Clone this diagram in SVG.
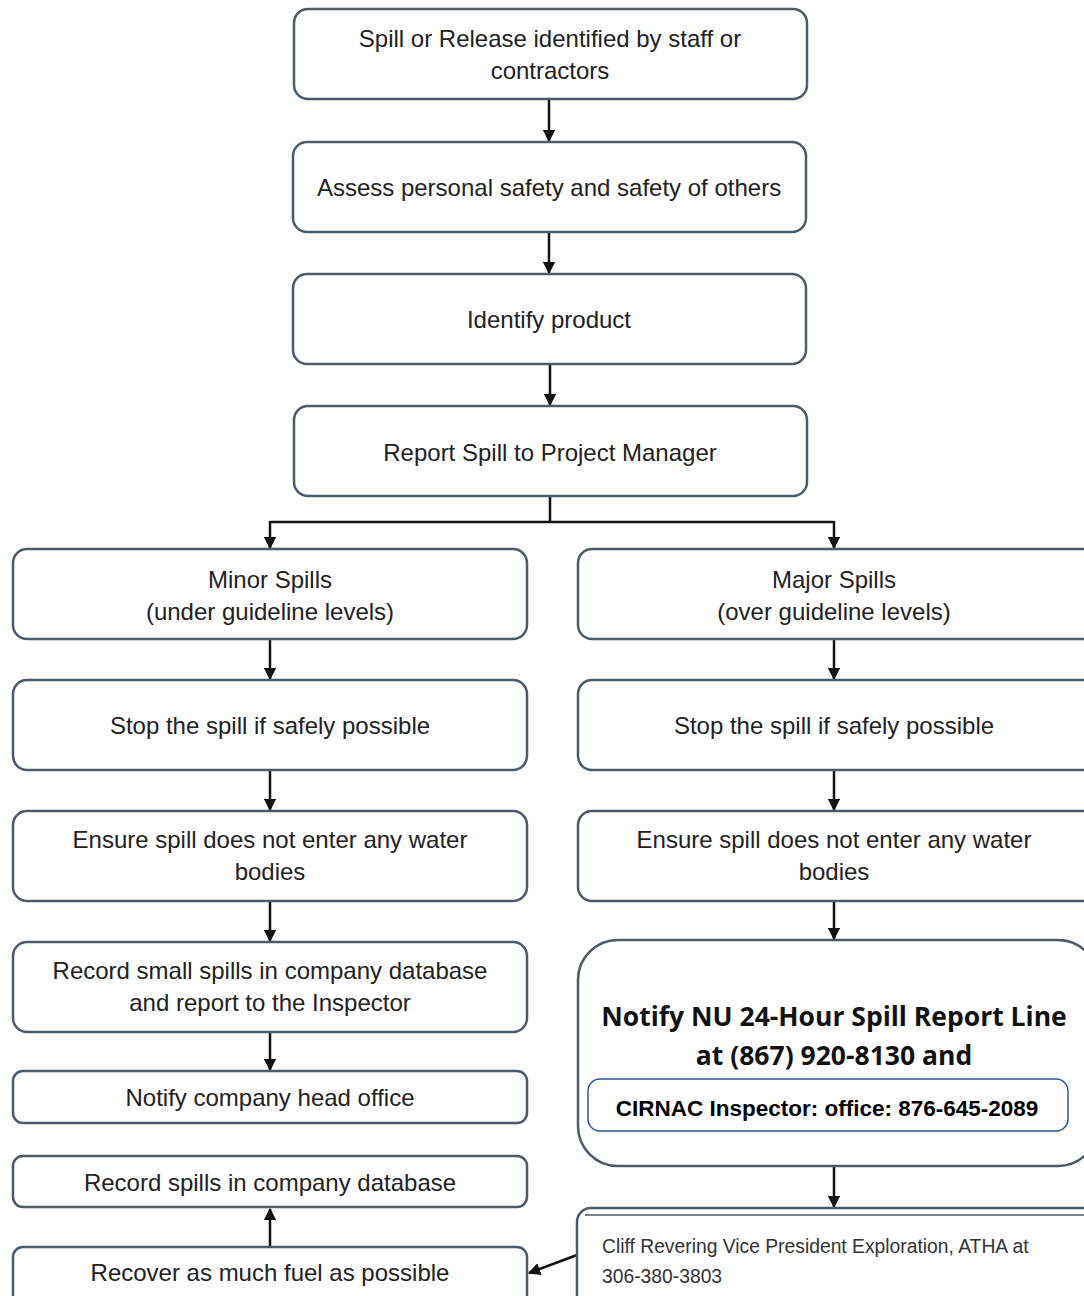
<svg xmlns="http://www.w3.org/2000/svg" width="1084" height="1296" viewBox="0 0 1084 1296">
<defs>
<style>
.box{fill:#fff;stroke:#4b5b6c;stroke-width:2.5}
.t{font-family:"Liberation Sans",Arial,sans-serif;font-size:24px;fill:#222;text-anchor:middle}
.b{font-family:"Open Sans","Liberation Sans",sans-serif;font-size:26.5px;font-weight:bold;fill:#111;text-anchor:middle}
.c{font-family:"Liberation Sans",Arial,sans-serif;font-size:22.5px;font-weight:bold;fill:#000;text-anchor:middle}
.s{font-family:"Liberation Sans",Arial,sans-serif;font-size:19.3px;fill:#333}
.ln{fill:none;stroke:#111;stroke-width:2.5}
</style>
<marker id="ah" viewBox="0 0 10 10" refX="9" refY="5" markerWidth="5" markerHeight="5" orient="auto"><path d="M0,0 L10,5 L0,10 z" fill="#111"/></marker>
</defs>
<rect width="1084" height="1296" fill="#fff"/>
<g id="connectors">
<path class="ln" d="M549,99 V141" marker-end="url(#ah)"/>
<path class="ln" d="M549,232 V273" marker-end="url(#ah)"/>
<path class="ln" d="M550,364 V405" marker-end="url(#ah)"/>
<path class="ln" d="M550,496 V522 M270,522 H834"/>
<path class="ln" d="M270,521 V548" marker-end="url(#ah)"/>
<path class="ln" d="M834,521 V548" marker-end="url(#ah)"/>
<path class="ln" d="M270,639 V679" marker-end="url(#ah)"/>
<path class="ln" d="M834,639 V679" marker-end="url(#ah)"/>
<path class="ln" d="M270,770 V810" marker-end="url(#ah)"/>
<path class="ln" d="M834,770 V810" marker-end="url(#ah)"/>
<path class="ln" d="M270,901 V941" marker-end="url(#ah)"/>
<path class="ln" d="M834,901 V939" marker-end="url(#ah)"/>
<path class="ln" d="M270,1032 V1070" marker-end="url(#ah)"/>
<path class="ln" d="M270,1246 V1209" marker-end="url(#ah)"/>
<path class="ln" d="M834,1166 V1207" marker-end="url(#ah)"/>
<path class="ln" d="M577,1255 L529,1273" marker-end="url(#ah)"/>
</g>
<g id="n1"><rect class="box" x="294" y="9" width="513" height="90" rx="14"/><text class="t" x="550" y="47">Spill or Release identified by staff or</text><text class="t" x="550" y="79">contractors</text></g>
<g id="n2"><rect class="box" x="293" y="142" width="513" height="90" rx="14"/><text class="t" x="549" y="196">Assess personal safety and safety of others</text></g>
<g id="n3"><rect class="box" x="293" y="274" width="513" height="90" rx="14"/><text class="t" x="549" y="328">Identify product</text></g>
<g id="n4"><rect class="box" x="294" y="406" width="513" height="90" rx="14"/><text class="t" x="550" y="461">Report Spill to Project Manager</text></g>
<g id="minor"><rect class="box" x="13" y="549" width="514" height="90" rx="14"/><text class="t" x="270" y="588">Minor Spills</text><text class="t" x="270" y="620">(under guideline levels)</text></g>
<g id="major"><rect class="box" x="578" y="549" width="520" height="90" rx="14"/><text class="t" x="834" y="588">Major Spills</text><text class="t" x="834" y="620">(over guideline levels)</text></g>
<g id="stopL"><rect class="box" x="13" y="680" width="514" height="90" rx="14"/><text class="t" x="270" y="734">Stop the spill if safely possible</text></g>
<g id="stopR"><rect class="box" x="578" y="680" width="520" height="90" rx="14"/><text class="t" x="834" y="734">Stop the spill if safely possible</text></g>
<g id="ensureL"><rect class="box" x="13" y="811" width="514" height="90" rx="14"/><text class="t" x="270" y="848">Ensure spill does not enter any water</text><text class="t" x="270" y="880">bodies</text></g>
<g id="ensureR"><rect class="box" x="578" y="811" width="520" height="90" rx="14"/><text class="t" x="834" y="848">Ensure spill does not enter any water</text><text class="t" x="834" y="880">bodies</text></g>
<g id="recordSmall"><rect class="box" x="13" y="942" width="514" height="90" rx="14"/><text class="t" x="270" y="979">Record small spills in company database</text><text class="t" x="270" y="1011">and report to the Inspector</text></g>
<g id="notifyHead"><rect class="box" x="13" y="1071" width="514" height="52" rx="10"/><text class="t" x="270" y="1106">Notify company head office</text></g>
<g id="recordDb"><rect class="box" x="13" y="1156" width="514" height="51" rx="10"/><text class="t" x="270" y="1191">Record spills in company database</text></g>
<g id="recover"><rect class="box" x="13" y="1247" width="514" height="70" rx="10"/><text class="t" x="270" y="1281">Recover as much fuel as possible</text></g>
<g id="notifyNU"><rect class="box" x="578" y="940" width="520" height="226" rx="40"/><text class="b" x="834" y="1026">Notify NU 24-Hour Spill Report Line</text><text class="b" x="834" y="1065">at (867) 920-8130 and</text>
<g id="cirnac"><rect x="588" y="1079" width="480" height="52" rx="12" fill="#fff" stroke="#2f5597" stroke-width="1.5"/><text class="c" x="827" y="1116">CIRNAC Inspector: office: 876-645-2089</text></g></g>
<g id="cliff"><rect class="box" x="577" y="1208" width="520" height="110" rx="14"/><path d="M585,1215 H1090" stroke="#4b5b6c" stroke-width="1.5" fill="none"/><text class="s" x="602" y="1253">Cliff Revering Vice President Exploration, ATHA at</text><text class="s" x="602" y="1283">306-380-3803</text></g>
</svg>
